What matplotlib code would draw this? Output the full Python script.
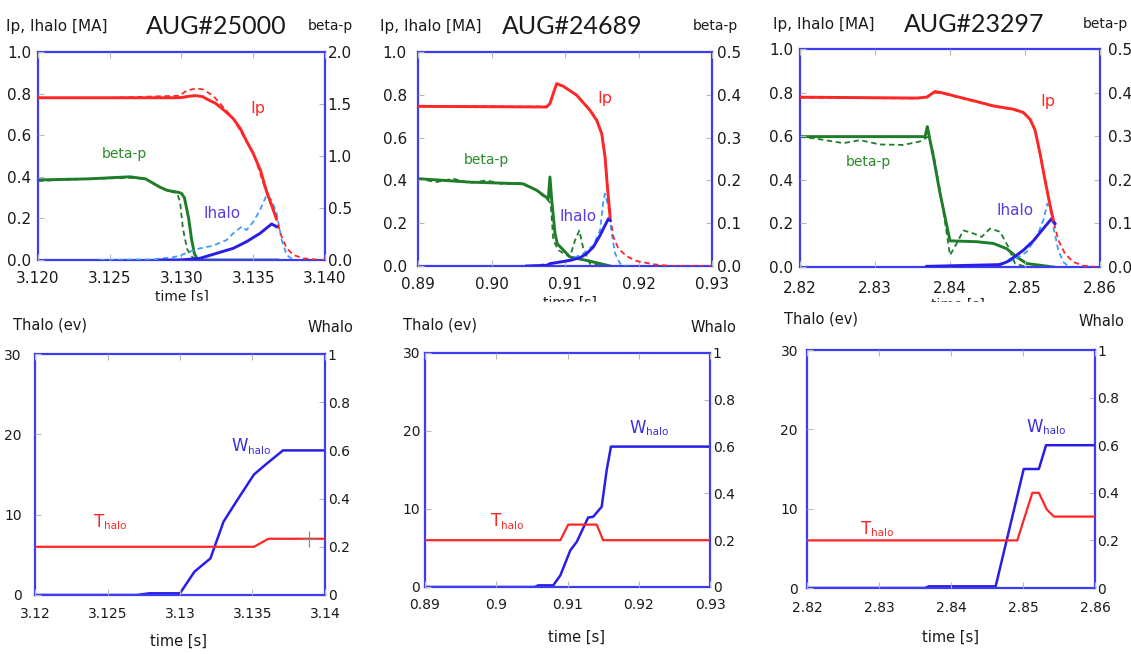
import matplotlib
matplotlib.use("Agg")
import matplotlib.pyplot as plt
from matplotlib.patches import Rectangle

plt.rcParams["font.family"] = ["DejaVu Sans"]

W, H = 1131, 654

# ---------------- AUG#25000 : currents and beta-p ----------------
ip_t_25000 = [3.120, 3.125, 3.1295, 3.1300, 3.1305, 3.1310, 3.1315, 3.1317, 3.1324, 3.1331,
              3.1336, 3.1341, 3.1345, 3.1350, 3.1355, 3.1359, 3.1364, 3.1366]
ip_25000 = [0.78, 0.78, 0.78, 0.781, 0.787, 0.79, 0.785, 0.776, 0.752, 0.712,
            0.68, 0.632, 0.576, 0.512, 0.432, 0.336, 0.24, 0.20]
ipm_t_25000 = [3.120, 3.125, 3.1299, 3.13035, 3.13105, 3.1315, 3.1322, 3.1331, 3.1336, 3.1350,
               3.1359, 3.1366, 3.13698, 3.13733, 3.1378, 3.1385, 3.1394, 3.140]
ipm_25000 = [0.78, 0.78, 0.79, 0.815, 0.825, 0.82, 0.79, 0.72, 0.68, 0.515,
             0.33, 0.20, 0.112, 0.056, 0.024, 0.008, 0.002, 0.0]
bp_t_25000 = [3.120, 3.1235, 3.1264, 3.1275, 3.1285, 3.1290, 3.1298, 3.1300, 3.1302, 3.1305,
              3.1307, 3.1309, 3.1311, 3.1313, 3.1367]
bp_25000 = [0.77, 0.78, 0.80, 0.78, 0.70, 0.67, 0.65, 0.64, 0.60, 0.40,
            0.20, 0.06, 0.01, 0.0, 0.0]
bpm_t_25000 = [3.120, 3.1235, 3.1264, 3.1275, 3.1285, 3.1290, 3.1297, 3.1299, 3.1301, 3.1304,
               3.1308, 3.1312, 3.1367]
bpm_25000 = [0.76, 0.78, 0.79, 0.78, 0.70, 0.67, 0.64, 0.56, 0.30, 0.10,
             0.02, 0.0, 0.0]
ih_t_25000 = [3.1285, 3.12988, 3.13128, 3.13244, 3.1336, 3.13453, 3.13547, 3.13628, 3.13663]
ih_25000 = [0.0, 0.0, 0.008, 0.032, 0.056, 0.088, 0.128, 0.173, 0.16]
ihm_t_25000 = [3.1243, 3.12802, 3.12942, 3.1300, 3.13058, 3.13128, 3.13221, 3.13314, 3.1336, 3.13419,
               3.13453, 3.1350, 3.13547, 3.13593, 3.13628, 3.13663, 3.13698, 3.13733, 3.13779]
ihm_25000 = [0.0, 0.003, 0.013, 0.024, 0.04, 0.056, 0.069, 0.096, 0.128, 0.16,
             0.144, 0.184, 0.24, 0.312, 0.288, 0.224, 0.096, 0.024, 0.0]

# ---------------- AUG#24689 ----------------
ip_t_24689 = [0.89, 0.9075, 0.90795, 0.90832, 0.90886, 0.90977, 0.91159, 0.91341, 0.91432, 0.915,
              0.91545, 0.91577, 0.91614]
ip_24689 = [0.746, 0.743, 0.759, 0.798, 0.852, 0.84, 0.798, 0.727, 0.68, 0.618,
            0.509, 0.369, 0.229]
ipm_t_24689 = [0.89, 0.9075, 0.90795, 0.90832, 0.90886, 0.90977, 0.91159, 0.91341, 0.91432, 0.915,
               0.91545, 0.91577, 0.91614, 0.91659, 0.91727, 0.91841, 0.91977, 0.92205, 0.92432, 0.93]
ipm_24689 = [0.748, 0.745, 0.76, 0.80, 0.85, 0.838, 0.80, 0.73, 0.685, 0.62,
             0.515, 0.375, 0.229, 0.136, 0.081, 0.045, 0.023, 0.008, 0.0, 0.0]
bp_t_24689 = [0.89, 0.89705, 0.90432, 0.90614, 0.90773, 0.90795, 0.90818, 0.90864, 0.90895, 0.91068,
              0.91295, 0.91614]
bp_24689 = [0.204, 0.196, 0.192, 0.177, 0.157, 0.208, 0.157, 0.076, 0.052, 0.021,
            0.013, 0.0]
bpm_t_24689 = [0.89, 0.8925, 0.89477, 0.89705, 0.89932, 0.90159, 0.90386, 0.90614, 0.90773, 0.90805,
               0.90841, 0.90909, 0.91068, 0.91136, 0.91195, 0.9125, 0.91341, 0.91523]
bpm_24689 = [0.204, 0.196, 0.204, 0.194, 0.20, 0.191, 0.194, 0.177, 0.153, 0.146,
             0.06, 0.037, 0.021, 0.06, 0.083, 0.04, 0.005, 0.0]
ih_t_24689 = [0.90477, 0.9075, 0.90795, 0.91068, 0.91205, 0.91295, 0.91386, 0.91477, 0.91545, 0.91591,
              0.91614]
ih_24689 = [0.0, 0.003, 0.011, 0.026, 0.039, 0.058, 0.089, 0.143, 0.19, 0.221,
            0.213]
ihm_t_24689 = [0.90523, 0.90795, 0.91068, 0.9125, 0.91386, 0.91477, 0.91523, 0.91545, 0.91591, 0.91636,
               0.91682, 0.9175, 0.91841]
ihm_24689 = [0.0, 0.011, 0.03, 0.058, 0.097, 0.167, 0.307, 0.338, 0.276, 0.151,
             0.058, 0.011, 0.0]

# ---------------- AUG#23297 ----------------
ip_t_23297 = [2.82, 2.83556, 2.83689, 2.838, 2.83911, 2.84133, 2.84356, 2.84578, 2.84844, 2.84978,
              2.85067, 2.85133, 2.852, 2.85267, 2.85333, 2.85378]
ip_23297 = [0.779, 0.775, 0.779, 0.805, 0.798, 0.778, 0.759, 0.739, 0.724, 0.709,
            0.678, 0.629, 0.521, 0.399, 0.284, 0.215]
ipm_t_23297 = [2.82, 2.83556, 2.83689, 2.838, 2.83911, 2.84133, 2.84356, 2.84578, 2.84844, 2.84978,
               2.85067, 2.85133, 2.852, 2.85267, 2.85333, 2.85378, 2.85444, 2.85533, 2.85644, 2.85778,
               2.85956]
ipm_23297 = [0.777, 0.773, 0.778, 0.80, 0.795, 0.776, 0.757, 0.737, 0.722, 0.707,
             0.676, 0.627, 0.52, 0.40, 0.29, 0.215, 0.123, 0.061, 0.023, 0.006,
             0.0]
bp_t_23297 = [2.82, 2.83667, 2.83698, 2.83724, 2.83778, 2.83867, 2.84, 2.84356, 2.84578, 2.84756,
              2.84889, 2.85022, 2.85378]
bp_23297 = [0.299, 0.299, 0.322, 0.299, 0.253, 0.169, 0.06, 0.058, 0.054, 0.042,
            0.023, 0.008, 0.0]
bpm_t_23297 = [2.82, 2.82267, 2.82578, 2.828, 2.83067, 2.83378, 2.836, 2.83711, 2.83778, 2.83889,
               2.84, 2.84089, 2.84178, 2.84311, 2.84422, 2.84533, 2.84667, 2.84778, 2.84867, 2.85022]
bpm_23297 = [0.299, 0.293, 0.284, 0.291, 0.281, 0.28, 0.288, 0.299, 0.261, 0.153,
             0.027, 0.054, 0.084, 0.077, 0.069, 0.088, 0.081, 0.046, 0.008, 0.0]
ih_t_23297 = [2.83689, 2.84667, 2.84756, 2.84844, 2.84978, 2.85111, 2.85244, 2.85356, 2.854]
ih_23297 = [0.003, 0.011, 0.023, 0.043, 0.077, 0.12, 0.176, 0.222, 0.199]
ihm_t_23297 = [2.83689, 2.84578, 2.84844, 2.85022, 2.85156, 2.85244, 2.85298, 2.85333, 2.85378, 2.85444,
               2.85511, 2.85578]
ihm_23297 = [0.003, 0.008, 0.031, 0.069, 0.138, 0.215, 0.291, 0.268, 0.184, 0.077,
             0.023, 0.003]

# ---------------- halo temperature / width ----------------
th_t_25000 = [3.12, 3.1351, 3.1361, 3.14]
th_25000 = [6, 6, 7, 7]
wh_t_25000 = [3.12, 3.127, 3.1279, 3.13, 3.131, 3.1321, 3.133, 3.1338, 3.1351, 3.136, 3.1371, 3.14]
wh_25000 = [0, 0, 0.007, 0.007, 0.097, 0.152, 0.304, 0.38, 0.5, 0.546, 0.6, 0.6]
cursor_t_25000 = [3.1389]
cursor_25000 = [7.0]

th_t_24689 = [0.89, 0.909, 0.9101, 0.9141, 0.915, 0.93]
th_24689 = [6, 6, 8, 8, 6, 6]
wh_t_24689 = [0.89, 0.9054, 0.9059, 0.908, 0.909, 0.9104, 0.9113, 0.9129, 0.9136, 0.9148, 0.9155, 0.9161, 0.93]
wh_24689 = [0, 0, 0.007, 0.007, 0.05, 0.157, 0.193, 0.297, 0.3, 0.343, 0.5, 0.6, 0.6]

th_t_23297 = [2.82, 2.8492, 2.8513, 2.8522, 2.8533, 2.8543, 2.86]
th_23297 = [6, 6, 12, 12, 9.9, 9, 9]
wh_t_23297 = [2.82, 2.8364, 2.8369, 2.8462, 2.8501, 2.8522, 2.8532, 2.86]
wh_23297 = [0, 0, 0.007, 0.007, 0.5, 0.5, 0.6, 0.6]

# axis ticks and labels
shots = ["AUG#25000", "AUG#24689", "AUG#23297"]
top_xticks = [[3.120, 3.125, 3.130, 3.135, 3.140],
              [0.89, 0.90, 0.91, 0.92, 0.93],
              [2.82, 2.83, 2.84, 2.85, 2.86]]
top_xlabels = [["3.120", "3.125", "3.130", "3.135", "3.140"],
               ["0.89", "0.90", "0.91", "0.92", "0.93"],
               ["2.82", "2.83", "2.84", "2.85", "2.86"]]
bot_xlabels = [["3.12", "3.125", "3.13", "3.135", "3.14"],
               ["0.89", "0.9", "0.91", "0.92", "0.93"],
               ["2.82", "2.83", "2.84", "2.85", "2.86"]]
ip_yticks = [0.0, 0.2, 0.4, 0.6, 0.8, 1.0]
ip_ylabels = ["0.0", "0.2", "0.4", "0.6", "0.8", "1.0"]
bp_ymax = [2.0, 0.5, 0.5]
bp_yticks = [[0.0, 0.5, 1.0, 1.5, 2.0],
             [0.0, 0.1, 0.2, 0.3, 0.4, 0.5],
             [0.0, 0.1, 0.2, 0.3, 0.4, 0.5]]
bp_ylabels = [["0.0", "0.5", "1.0", "1.5", "2.0"],
              ["0.0", "0.1", "0.2", "0.3", "0.4", "0.5"],
              ["0.0", "0.1", "0.2", "0.3", "0.4", "0.5"]]
th_yticks = [0, 10, 20, 30]
wh_yticks = [0, 0.2, 0.4, 0.6, 0.8, 1.0]
wh_ylabels = ["0", "0.2", "0.4", "0.6", "0.8", "1"]

RED = "#ff2626"
GREEN = "#1f7d2a"
BLUE = "#2a1ee6"
LBLUE = "#3d9cff"
FRAME = "#3c3cf2"
TXT = "#1a1a1a"


def px_rect(l, t, r, b):
    return [l / W, 1 - b / H, (r - l) / W, (b - t) / H]


def fig_text(fig, x, y, s, **kw):
    kw.setdefault("color", TXT)
    kw.setdefault("fontsize", 10.5)
    fig.text(x / W, 1 - y / H, s, ha="center", va="center", **kw)


def sub_label(ax, x, y, main, sub, color):
    # big letter with a small lowered suffix, e.g. W + halo
    ax.annotate(main, (x, y), xytext=(-4, 0), textcoords="offset points",
                color=color, fontsize=12, ha="right", va="center")
    ax.annotate(sub, (x, y), xytext=(-4, -3), textcoords="offset points",
                color=color, fontsize=7.5, ha="left", va="center")


def style_axes(ax, ax2, size, pads):
    lpad, rpad, bpad = pads
    for sp in ax2.spines.values():
        sp.set_color(FRAME)
        sp.set_linewidth(1.6)
    for sp in ax.spines.values():
        sp.set_visible(False)
    ax.tick_params(direction="in", length=4, width=0.8, color="#b8b8b8",
                   labelsize=size, labelcolor=TXT, top=True)
    ax.tick_params(axis="y", pad=lpad)
    ax.tick_params(axis="x", pad=bpad)
    ax2.tick_params(direction="in", length=4, width=0.8, color="#b8b8b8",
                    labelsize=size, labelcolor=TXT, pad=rpad)
    ax.set_facecolor("none")


def plot_currents(fig, rect, i, data, lbl_pos, pads):
    ip_t, ip, ipm_t, ipm, bp_t, bp, bpm_t, bpm, ih_t, ih, ihm_t, ihm = data
    ax2 = fig.add_axes(rect)
    ax = fig.add_axes(rect, sharex=ax2)
    ax.set_zorder(ax2.get_zorder() + 1)
    ax2.yaxis.tick_right()
    ax2.xaxis.set_visible(False)

    dash = dict(lw=1.3, ls=(0, (3, 2)))
    # beta-p on right axis
    ax2.plot(bpm_t, bpm, color=GREEN, **dash)
    ax2.plot(bp_t, bp, color=GREEN, lw=2.1)
    # currents on left axis
    ax.plot(ihm_t, ihm, color=LBLUE, **dash)
    ax.plot(ipm_t, ipm, color=RED, **dash)
    ax.plot(ih_t, ih, color=BLUE, lw=2.1)
    ax.plot(ip_t, ip, color=RED, lw=2.1)

    ax.set_xlim(top_xticks[i][0], top_xticks[i][-1])
    ax.set_ylim(0, 1)
    ax2.set_ylim(0, bp_ymax[i])
    ax.set_xticks(top_xticks[i], top_xlabels[i])
    ax.set_yticks(ip_yticks, ip_ylabels)
    ax2.set_yticks(bp_yticks[i], bp_ylabels[i])
    style_axes(ax, ax2, 11, pads)

    (ipx, ipy), (bx, by), (hx, hy) = lbl_pos
    ax.text(ipx, ipy, "Ip", color=RED, fontsize=11.5, ha="center", va="center")
    ax.text(bx, by, "beta-p", color="#2a8a2a", fontsize=10, ha="center", va="center")
    ax.text(hx, hy, "Ihalo", color="#5a3ce0", fontsize=11, ha="center", va="center")
    return ax


def plot_halo(fig, rect, i, data, lbl_pos, pads):
    th_t, th, wh_t, wh = data
    ax2 = fig.add_axes(rect)
    ax = fig.add_axes(rect, sharex=ax2)
    ax.set_zorder(ax2.get_zorder() + 1)
    ax2.yaxis.tick_right()
    ax2.xaxis.set_visible(False)

    ax2.plot(wh_t, wh, color=BLUE, lw=1.8)
    ax.plot(th_t, th, color=RED, lw=1.6)

    ax.set_xlim(top_xticks[i][0], top_xticks[i][-1])
    ax.set_ylim(0, 30)
    ax2.set_ylim(0, 1)
    ax.set_xticks(top_xticks[i], bot_xlabels[i])
    ax.set_yticks(th_yticks, [str(v) for v in th_yticks])
    ax2.set_yticks(wh_yticks, wh_ylabels)
    style_axes(ax, ax2, 10, pads)

    (wx, wy), (tx, ty) = lbl_pos
    sub_label(ax, wx, wy, "W", "halo", "#3a2ee0")
    sub_label(ax, tx, ty, "T", "halo", RED)
    return ax


fig = plt.figure(figsize=(W / 100, H / 100), dpi=100)
fig.patch.set_facecolor("white")

top_data = [
    (ip_t_25000, ip_25000, ipm_t_25000, ipm_25000, bp_t_25000, bp_25000,
     bpm_t_25000, bpm_25000, ih_t_25000, ih_25000, ihm_t_25000, ihm_25000),
    (ip_t_24689, ip_24689, ipm_t_24689, ipm_24689, bp_t_24689, bp_24689,
     bpm_t_24689, bpm_24689, ih_t_24689, ih_24689, ihm_t_24689, ihm_24689),
    (ip_t_23297, ip_23297, ipm_t_23297, ipm_23297, bp_t_23297, bp_23297,
     bpm_t_23297, bpm_23297, ih_t_23297, ih_23297, ihm_t_23297, ihm_23297),
]
bot_data = [
    (th_t_25000, th_25000, wh_t_25000, wh_25000),
    (th_t_24689, th_24689, wh_t_24689, wh_24689),
    (th_t_23297, th_23297, wh_t_23297, wh_23297),
]

top_rects = [px_rect(38, 52, 325, 260), px_rect(418, 52, 712, 266), px_rect(800, 49, 1100, 267)]
bot_rects = [px_rect(35, 354, 325, 595), px_rect(425, 353, 710, 587), px_rect(807, 350, 1095, 588)]
top_pads = [(5, 2, 8), (8, 3.5, 8), (5, 6, 10)]
bot_pads = [(9.5, 2, 9), (3.5, 2, 8), (6.5, 1.5, 9)]

top_lbls = [
    [(3.13535, 0.728), (3.12605, 0.512), (3.1328, 0.224)],
    [(0.91545, 0.782), (0.89932, 0.494), (0.91182, 0.229)],
    [(2.8531, 0.759), (2.82911, 0.483), (2.84867, 0.261)],
]
bot_lbls = [
    [(3.13506, 18.5), (3.12517, 9.1)],
    [(0.92181, 20.4), (0.90146, 8.4)],
    [(2.85353, 20.3), (2.82971, 7.5)],
]

bot_axes = []
for i in range(3):
    plot_currents(fig, top_rects[i], i, top_data[i], top_lbls[i], top_pads[i])
    bot_axes.append(plot_halo(fig, bot_rects[i], i, bot_data[i], bot_lbls[i], bot_pads[i]))

# read-out cursor left on the first halo panel
bot_axes[0].plot(cursor_t_25000, cursor_25000, marker="+", ms=12, mew=0.9,
                 color="#8a8a8a", ls="none")

# header labels of the current panels
for (xl, xr, xt, y), shot in zip([(57, 330, 216, 26), (431, 715, 572, 26), (824, 1105, 974, 24)], shots):
    fig_text(fig, xl, y, "Ip, Ihalo [MA]", fontsize=11)
    fig_text(fig, xr, y, "beta-p", fontsize=10)
    fig_text(fig, xt, y, shot, fontsize=18, family=["Lato", "DejaVu Sans"])

# header labels of the halo panels
for xl, xr, y in [(50, 330, 325), (440, 713, 325), (821, 1101, 319)]:
    fig_text(fig, xl, y, "Thalo (ev)", fontsize=10.5)
    fig_text(fig, xr, y + 2, "Whalo", fontsize=10.5)

# time labels; the upper ones are partly hidden below
for x, y in [(182, 297), (570, 303), (958, 305)]:
    fig_text(fig, x, y, "time [s]", fontsize=10)
for x, y in [(179, 641), (577, 637), (951, 637)]:
    fig_text(fig, x, y, "time [s]", fontsize=10.5)
for l, t in [(120, 300.5), (500, 302), (880, 302)]:
    fig.add_artist(Rectangle((l / W, 1 - 312 / H), 140 / W, (312 - t) / H,
                             transform=fig.transFigure, color="white", zorder=5))

fig.savefig("out.png", dpi=100)
